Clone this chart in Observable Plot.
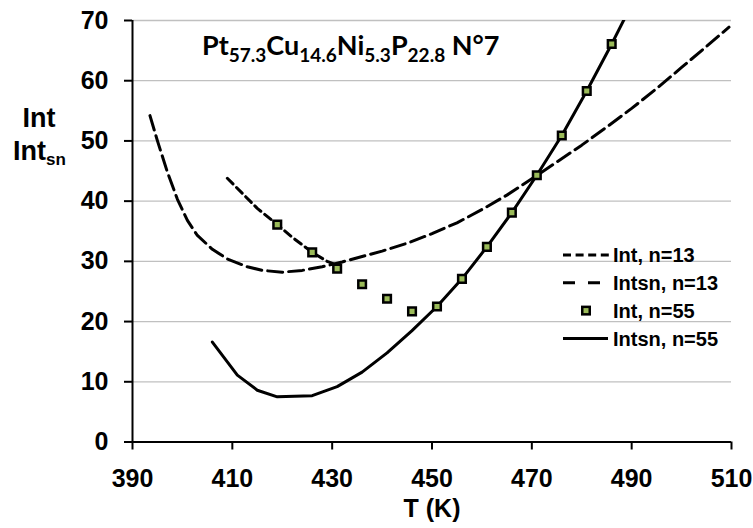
<!DOCTYPE html>
<html>
<head>
<meta charset="utf-8">
<script src="https://cdn.jsdelivr.net/npm/d3@7"></script>
<script src="https://cdn.jsdelivr.net/npm/@observablehq/plot@0.6"></script>
<style>
  html, body { margin: 0; padding: 0; background: #fff; }
  #chart { width: 753px; height: 528px; }
</style>
</head>
<body>
<div id="chart"></div>
<script>
// Axis ticks
const xTicks = [390, 410, 430, 450, 470, 490, 510];
const yTicks = [0, 10, 20, 30, 40, 50, 60, 70];

// Int, n=13 (short dashes)
const intN13T = [409, 412, 415, 419, 422, 426, 429, 431.5];
const intN13V = [43.8, 41.3, 38.8, 36.1, 34.0, 31.5, 30.0, 29.2];

// Intsn, n=13 (long dashes)
const intsnN13T = [393.5, 395, 397, 399, 401, 403, 406, 409, 413, 416, 420, 424, 428, 432, 436, 440, 445, 450, 455, 460, 465, 470, 475, 480, 485, 490, 495, 500, 505, 509.5];
const intsnN13V = [54.2, 50.0, 44.8, 40.3, 36.8, 34.3, 32.0, 30.4, 29.1, 28.5, 28.2, 28.5, 29.1, 29.9, 30.8, 31.7, 33.0, 34.6, 36.4, 38.6, 41.0, 43.7, 46.5, 49.3, 52.3, 55.4, 58.7, 62.2, 65.7, 68.9];

// Int, n=55 (square markers)
const intN55T = [419, 426, 431, 436, 441, 446, 451, 456, 461, 466, 471, 476, 481, 486];
const intN55V = [36.1, 31.5, 28.8, 26.2, 23.8, 21.7, 22.5, 27.1, 32.4, 38.1, 44.3, 50.9, 58.3, 66.1];

// Intsn, n=55 (solid line)
const intsnN55T = [406, 411, 415, 419, 426, 431, 436, 441, 446, 451, 456, 461, 466, 471, 476, 481, 486, 491];
const intsnN55V = [16.6, 11.1, 8.6, 7.5, 7.7, 9.2, 11.6, 14.8, 18.5, 22.5, 27.1, 32.4, 38.1, 44.3, 50.9, 58.3, 66.1, 74.3];

const rows = (ts, vs) => ts.map((T, i) => ({T, v: vs[i]}));
const intN13 = rows(intN13T, intN13V);
const intsnN13 = rows(intsnN13T, intsnN13V);
const intN55 = rows(intN55T, intN55V);
const intsnN55 = rows(intsnN55T, intsnN55V);

const FONT = '"Liberation Sans", Arial, sans-serif';
const GREEN = "#9bbb59";

const chart = Plot.plot({
  width: 753,
  height: 528,
  marginLeft: 132,
  marginRight: 22,
  marginTop: 20,
  marginBottom: 86.5,
  style: {fontFamily: FONT, fontWeight: 700, fontSize: "25px", color: "#000", background: "#fff", overflow: "visible"},
  x: {domain: [390, 510]},
  y: {domain: [0, 70]},
  marks: [
    Plot.gridY(yTicks.filter(d => d > 0), {stroke: "#c0c0c0", strokeOpacity: 1, strokeWidth: 1.3}),
    Plot.axisY(yTicks, {tickSize: 8, tickPadding: 16, strokeWidth: 2, label: null, fontSize: 25, fontWeight: 700}),
    Plot.axisX(xTicks, {tickSize: 8, tickPadding: 19, strokeWidth: 2, label: null, fontSize: 25, fontWeight: 700}),
    Plot.ruleY([0], {stroke: "#000", strokeWidth: 2}),
    Plot.ruleX([390], {stroke: "#000", strokeWidth: 2}),
    Plot.text(["T (K)"], {frameAnchor: "bottom", dy: 75, fontSize: 25, fontWeight: 700}),
    Plot.line(intsnN13, {x: "T", y: "v", stroke: "#000", strokeWidth: 3, strokeDasharray: "15,6"}),
    Plot.line(intN13, {x: "T", y: "v", stroke: "#000", strokeWidth: 3, strokeDasharray: "8,5"}),
    Plot.line(intsnN55, {x: "T", y: "v", stroke: "#000", strokeWidth: 3, clip: true}),
    Plot.dot(intN55, {x: "T", y: "v", symbol: "square", r: 4.3, fill: GREEN, stroke: "#000", strokeWidth: 2.5})
  ]
});

document.getElementById("chart").appendChild(chart);

const svg = d3.select(chart);

// Title with subscripted composition
const title = svg.append("text")
  .attr("x", 202).attr("y", 55)
  .attr("text-anchor", "start")
  .attr("font-family", 'Lato, "Open Sans", sans-serif')
  .attr("font-weight", 700)
  .attr("font-size", 27)
  .attr("fill", "#000");
const parts = [["Pt", false], ["57.3", true], ["Cu", false], ["14.6", true], ["Ni", false], ["5.3", true], ["P", false], ["22.8", true], [" N°7", false]];
let prevSub = false;
for (const [t, sub] of parts) {
  const ts = title.append("tspan").text(t);
  if (sub) ts.attr("font-size", 19).attr("dy", prevSub ? 0 : 7);
  else if (prevSub) ts.attr("dy", -7);
  prevSub = sub;
}

// Y axis label
const ylab = svg.append("g")
  .attr("font-family", FONT).attr("font-weight", 700).attr("fill", "#000");
ylab.append("text").attr("x", 39).attr("y", 127).attr("text-anchor", "middle")
  .attr("font-size", 27).text("Int");
const yl2 = ylab.append("text").attr("x", 13).attr("y", 160).attr("text-anchor", "start").attr("font-size", 27);
yl2.append("tspan").text("Int");
yl2.append("tspan").attr("font-size", 17).attr("dy", 5).text("sn");

// Legend
const legendRows = [
  {label: "Int, n=13", kind: "short"},
  {label: "Intsn, n=13", kind: "long"},
  {label: "Int, n=55", kind: "square"},
  {label: "Intsn, n=55", kind: "solid"}
];
const lg = svg.append("g").attr("font-family", FONT).attr("font-weight", 700).attr("font-size", 20);
legendRows.forEach((r, i) => {
  const y = 255 + i * 27.8;
  if (r.kind === "short") {
    lg.append("line").attr("x1", 563).attr("x2", 609).attr("y1", y).attr("y2", y)
      .attr("stroke", "#000").attr("stroke-width", 3).attr("stroke-dasharray", "8,4.6");
  } else if (r.kind === "long") {
    lg.append("line").attr("x1", 563).attr("x2", 600).attr("y1", y).attr("y2", y)
      .attr("stroke", "#000").attr("stroke-width", 3).attr("stroke-dasharray", "12,13");
  } else if (r.kind === "square") {
    lg.append("rect").attr("x", 586 - 3.75).attr("y", y - 3.75).attr("width", 7.5).attr("height", 7.5)
      .attr("fill", GREEN).attr("stroke", "#000").attr("stroke-width", 2.5);
  } else {
    lg.append("line").attr("x1", 563).attr("x2", 608).attr("y1", y).attr("y2", y)
      .attr("stroke", "#000").attr("stroke-width", 3);
  }
  lg.append("text").attr("x", 613).attr("y", y).attr("dy", "0.36em").attr("text-anchor", "start").text(r.label);
});
</script>
</body>
</html>
